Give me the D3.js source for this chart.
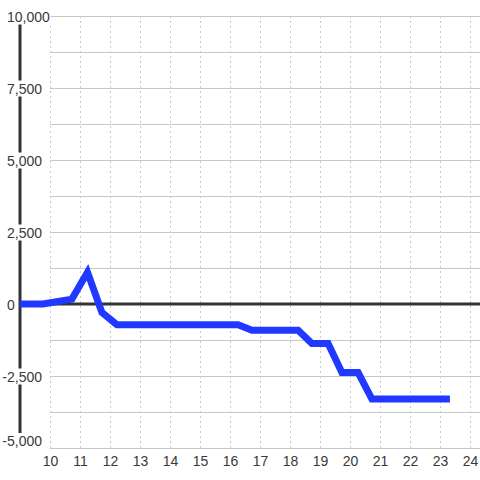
<!DOCTYPE html>
<html><head><meta charset="utf-8">
<script src="https://cdn.jsdelivr.net/npm/d3@7"></script>
<style>body{margin:0;background:#fff}svg{display:block}text{font-family:"Liberation Sans",Arial,sans-serif}</style>
</head><body>
<svg id="c" width="480" height="480"></svg>
<script>
const xValues = [9, 9.77, 10.73, 11.25, 11.73, 12.23, 16.27, 16.73, 18.27, 18.73, 19.27, 19.73, 20.27, 20.73, 23.33];
const yValues = [0, 0, 170, 1100, -290, -720, -720, -910, -910, -1370, -1370, -2380, -2380, -3300, -3300];
const yTickLabels = [10000, 7500, 5000, 2500, 0, -2500, -5000];
const yGridValues = [10000, 8750, 7500, 6250, 5000, 3750, 2500, 1250, 0, -1250, -2500, -3750, -5000];
const xTickLabels = [10, 11, 12, 13, 14, 15, 16, 17, 18, 19, 20, 21, 22, 23, 24];

const svg = d3.select("#c");
const x = d3.scaleLinear().domain([9, 24]).range([20, 470]);
const y = d3.scaleLinear().domain([-5000, 10000]).range([448, 16]);
const textCol = "#3a3a3a";

// horizontal grid
svg.append("g").selectAll("line").data(yGridValues).join("line")
  .attr("x1", x(10)).attr("x2", 480)
  .attr("y1", d => y(d)).attr("y2", d => y(d))
  .attr("stroke", "#c8c8c8").attr("stroke-width", 1).attr("shape-rendering", "crispEdges");

// vertical dashed grid
svg.append("g").selectAll("line").data(xTickLabels).join("line")
  .attr("x1", d => Math.round(x(d)) + 0.5).attr("x2", d => Math.round(x(d)) + 0.5)
  .attr("y1", y(10000)).attr("y2", y(-5000))
  .attr("stroke", "#c8c8c8").attr("stroke-width", 1).attr("stroke-dasharray", "2,3");

// y axis line
svg.append("line").attr("x1", x(9)).attr("x2", x(9)).attr("y1", y(10000)).attr("y2", y(-5000))
  .attr("stroke", "#333").attr("stroke-width", 3);

// zero line
svg.append("line").attr("x1", x(9)).attr("x2", 480).attr("y1", y(0)).attr("y2", y(0))
  .attr("stroke", "#333").attr("stroke-width", 3);

// y labels with background
const fmt = d3.format(",");
const yl = svg.append("g").selectAll("g").data(yTickLabels).join("g");
yl.each(function(d) {
  const g = d3.select(this);
  const cy = d === -5000 ? 441 : y(d) + 0.5;
  const t = g.append("text").attr("font-size", 14).attr("fill", textCol)
    .attr("dominant-baseline", "central").attr("y", cy).text(fmt(d).replace("−", "-"));
  const minusW = d < 0 ? 4.7 : 0;
  t.attr("x", 7 - minusW);
  const w = t.node().getComputedTextLength();
  g.insert("rect", "text").attr("x", 7 - minusW - 1).attr("y", cy - 8).attr("width", w + 2).attr("height", 16).attr("fill", "#fff");
});

// x labels
svg.append("g").selectAll("text").data(xTickLabels).join("text")
  .attr("x", d => x(d) + 0.5).attr("y", 466).attr("text-anchor", "middle")
  .attr("font-size", 14).attr("fill", textCol).text(d => d);

// data line
const pts = xValues.map((v, i) => [v, yValues[i]]);
svg.append("path").datum(pts)
  .attr("d", d3.line().x(d => x(d[0])).y(d => y(d[1])))
  .attr("fill", "none").attr("stroke", "#2038ff").attr("stroke-width", 7)
  .attr("stroke-linejoin", "miter");
</script>
</body></html>
